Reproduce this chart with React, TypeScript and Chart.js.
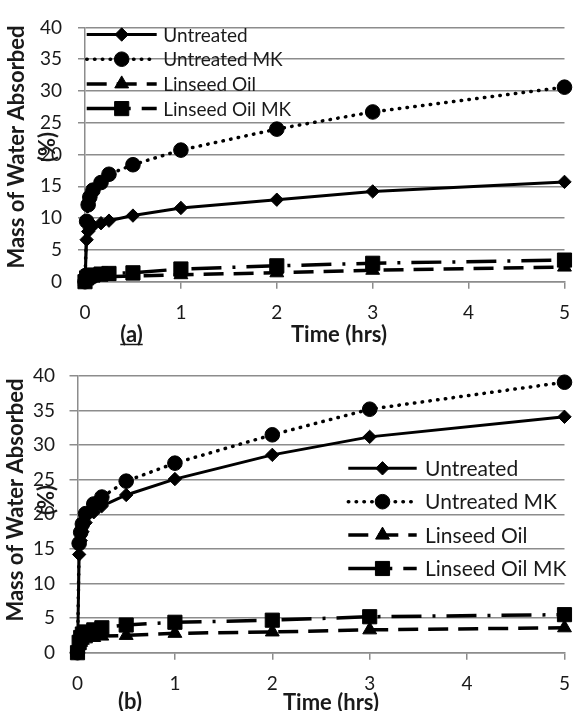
import React, { useEffect, useRef } from 'react';
import { Chart, registerables } from 'chart.js';
import { drawPoint } from 'chart.js/helpers';

Chart.register(...registerables);

// ---------- data ----------
const timeHours = [0, 0.017, 0.033, 0.05, 0.083, 0.167, 0.25, 0.5, 1, 2, 3, 5];
const seriesNames = ['Untreated', 'Untreated MK', 'Linseed Oil', 'Linseed Oil MK'];

const aUntreated = [0, 6.6, 7.9, 8.4, 8.8, 9.2, 9.6, 10.4, 11.6, 12.9, 14.2, 15.7];
const aUntreatedMK = [0, 9.5, 12.1, 13.3, 14.4, 15.6, 16.9, 18.4, 20.7, 24.0, 26.7, 30.6];
const aLinseed = [0, 0.3, 0.45, 0.55, 0.65, 0.75, 0.8, 0.9, 1.1, 1.4, 1.8, 2.3];
const aLinseedMK = [0, 0.6, 0.8, 0.95, 1.05, 1.2, 1.3, 1.4, 2.0, 2.5, 2.9, 3.4];

const bUntreated = [0, 14.2, 16.2, 17.5, 18.8, 20.3, 21.2, 22.8, 25.1, 28.6, 31.2, 34.1];
const bUntreatedMK = [0, 15.8, 17.4, 18.6, 20.1, 21.5, 22.5, 24.8, 27.4, 31.5, 35.2, 39.1];
const bLinseed = [0, 1.0, 1.5, 1.8, 2.0, 2.2, 2.4, 2.5, 2.8, 3.0, 3.3, 3.6];
const bLinseedMK = [0, 1.5, 2.2, 2.7, 3.0, 3.3, 3.6, 4.0, 4.4, 4.7, 5.2, 5.5];

const xTickValues = [0, 1, 2, 3, 4, 5];
const yTickValues = [0, 5, 10, 15, 20, 25, 30, 35, 40];

const xTitle = 'Time (hrs)';
const yTitleLines = ['Mass of Water Absorbed', '(%)'];

// ---------- styles ----------
const FONT = 'Lato, "Open Sans", sans-serif';
const GRID = '#8c8c8c';
const TEXT = '#1a1a1a';

const seriesStyle = [
  { pointStyle: 'rectRot', radius: 6.7, dash: [] as number[], width: 3, cap: 'butt' },
  { pointStyle: 'circle', radius: 7.3, dash: [0.5, 7.3], width: 3.5, cap: 'round' },
  { pointStyle: 'triangle', radius: 8, dash: [20, 10], width: 3.5, cap: 'butt' },
  { pointStyle: 'rect', radius: 10, dash: [30, 11, 3, 11], width: 3.5, cap: 'butt' },
];

type Panel = {
  values: number[][];
  canvasTop: number;
  height: number;
  left: number;
  top: number;
  bottom: number;
  right: number;
  yPad: number;
  yTick: number;
  xPad: number;
  tickFont: number;
  legendFont: number;
  legendX1: number;
  legendX2: number;
  legendTextX: number;
  legendY0: number;
  legendDy: number;
  titleCY: number;
  title1X: number;
  title2X: number;
  xTitleX: number;
  xTitleY: number;
  caption: string;
  capX: number;
  capY: number;
  underline: boolean;
};

const W = 583;

const panels: Panel[] = [
  {
    values: [aUntreated, aUntreatedMK, aLinseed, aLinseedMK],
    canvasTop: 0, height: 348,
    left: 85, top: 22, bottom: 281.7, right: 577,
    yPad: 16, yTick: 7, xPad: 13, tickFont: 19, legendFont: 19,
    legendX1: 86.7, legendX2: 156.7, legendTextX: 163.3, legendY0: 34.5, legendDy: 24.7,
    titleCY: 147, title1X: 17, title2X: 48,
    xTitleX: 339, xTitleY: 335,
    caption: '(a)', capX: 131.5, capY: 335, underline: true,
  },
  {
    values: [bUntreated, bUntreatedMK, bLinseed, bLinseedMK],
    canvasTop: 348, height: 363,
    left: 77.5, top: 28, bottom: 304.7, right: 577,
    yPad: 14.5, yTick: 8, xPad: 13, tickFont: 19, legendFont: 21,
    legendX1: 348.3, legendX2: 416.7, legendTextX: 425, legendY0: 120.3, legendDy: 33.4,
    titleCY: 152, title1X: 16, title2X: 47,
    xTitleX: 331, xTitleY: 355,
    caption: '(b)', capX: 130, capY: 353.7, underline: false,
  },
];

function decorPlugin(p: Panel) {
  return {
    id: 'decor',
    afterDraw(chart: any) {
      const ctx: CanvasRenderingContext2D = chart.ctx;
      ctx.save();
      // legend
      seriesNames.forEach((name, i) => {
        const st = seriesStyle[i];
        const y = p.legendY0 + i * p.legendDy;
        ctx.strokeStyle = '#000';
        ctx.lineWidth = st.width;
        ctx.setLineDash(st.dash);
        ctx.lineCap = st.cap as CanvasLineCap;
        ctx.beginPath();
        ctx.moveTo(p.legendX1, y);
        ctx.lineTo(p.legendX2, y);
        ctx.stroke();
        ctx.setLineDash([]);
        ctx.lineCap = 'butt';
        ctx.fillStyle = '#000';
        ctx.lineWidth = 1;
        drawPoint(ctx, { pointStyle: st.pointStyle as any, radius: st.radius, rotation: 0, borderWidth: 1 } as any,
          (p.legendX1 + p.legendX2) / 2, y);
        ctx.fillStyle = TEXT;
        ctx.font = `${p.legendFont}px ${FONT}`;
        ctx.textAlign = 'left';
        ctx.textBaseline = 'middle';
        ctx.fillText(name, p.legendTextX, y + 1);
      });
      // y title
      ctx.fillStyle = TEXT;
      ctx.font = `bold 22px ${FONT}`;
      ctx.textAlign = 'center';
      ctx.textBaseline = 'middle';
      [p.title1X, p.title2X].forEach((x, k) => {
        ctx.save();
        ctx.translate(x, p.titleCY);
        ctx.rotate(-Math.PI / 2);
        ctx.fillText(yTitleLines[k], 0, 0);
        ctx.restore();
      });
      // x title
      ctx.fillText(xTitle, p.xTitleX, p.xTitleY);
      // caption
      ctx.fillText(p.caption, p.capX, p.capY);
      if (p.underline) {
        const w = ctx.measureText(p.caption).width;
        ctx.strokeStyle = TEXT;
        ctx.lineWidth = 1.5;
        ctx.beginPath();
        ctx.moveTo(p.capX - w / 2, p.capY + 9.5);
        ctx.lineTo(p.capX + w / 2, p.capY + 9.5);
        ctx.stroke();
      }
      ctx.restore();
    },
  };
}

function makeChart(canvas: HTMLCanvasElement, p: Panel) {
  const datasets = seriesNames.map((name, i) => {
    const st = seriesStyle[i];
    return {
      label: name,
      data: timeHours.map((t, j) => ({ x: t, y: p.values[i][j] })),
      borderColor: '#000',
      backgroundColor: '#000',
      borderWidth: st.width,
      borderDash: st.dash,
      borderCapStyle: st.cap,
      pointStyle: st.pointStyle,
      pointRadius: st.radius,
      pointBorderWidth: 1,
      pointBackgroundColor: '#000',
      pointBorderColor: '#000',
      tension: 0,
      fill: false,
      clip: false,
    };
  });
  return new Chart(canvas, {
    type: 'line',
    data: { datasets } as any,
    plugins: [decorPlugin(p)],
    options: {
      animation: false,
      responsive: false,
      devicePixelRatio: 1,
      events: [],
      layout: { padding: { left: 0, top: p.top, right: W - p.right, bottom: 0 } },
      plugins: { legend: { display: false }, tooltip: { enabled: false }, title: { display: false } },
      scales: {
        x: {
          type: 'linear',
          min: 0,
          max: 5,
          afterBuildTicks: (axis: any) => { axis.ticks = xTickValues.map((v) => ({ value: v })); },
          afterFit: (axis: any) => { axis.height = p.height - p.bottom; },
          grid: { drawOnChartArea: false, drawTicks: true, tickLength: 7, color: GRID, lineWidth: 1.5 },
          border: { display: true, color: GRID, width: 1.5 },
          ticks: { color: TEXT, font: { family: FONT, size: p.tickFont }, padding: p.xPad, maxRotation: 0, autoSkip: false },
        },
        y: {
          type: 'linear',
          min: 0,
          max: 40,
          afterBuildTicks: (axis: any) => { axis.ticks = yTickValues.map((v) => ({ value: v })); },
          afterFit: (axis: any) => { axis.width = p.left; },
          grid: { drawOnChartArea: true, drawTicks: true, tickLength: p.yTick, color: GRID, lineWidth: 1.5 },
          border: { display: true, color: GRID, width: 1.5 },
          ticks: { color: TEXT, font: { family: FONT, size: p.tickFont }, padding: p.yPad, autoSkip: false },
        },
      },
    } as any,
  });
}

export default function App() {
  const ref0 = useRef<HTMLCanvasElement>(null);
  const ref1 = useRef<HTMLCanvasElement>(null);
  useEffect(() => {
    const charts: Chart[] = [];
    if (ref0.current) charts.push(makeChart(ref0.current, panels[0]));
    if (ref1.current) charts.push(makeChart(ref1.current, panels[1]));
    return () => charts.forEach((c) => c.destroy());
  }, []);
  return (
    <div style={{ position: 'absolute', left: 0, top: 0, width: W, height: 711, background: '#fff' }}>
      <canvas ref={ref0} width={W} height={panels[0].height}
        style={{ position: 'absolute', left: 0, top: panels[0].canvasTop, width: W, height: panels[0].height }} />
      <canvas ref={ref1} width={W} height={panels[1].height}
        style={{ position: 'absolute', left: 0, top: panels[1].canvasTop, width: W, height: panels[1].height }} />
    </div>
  );
}
